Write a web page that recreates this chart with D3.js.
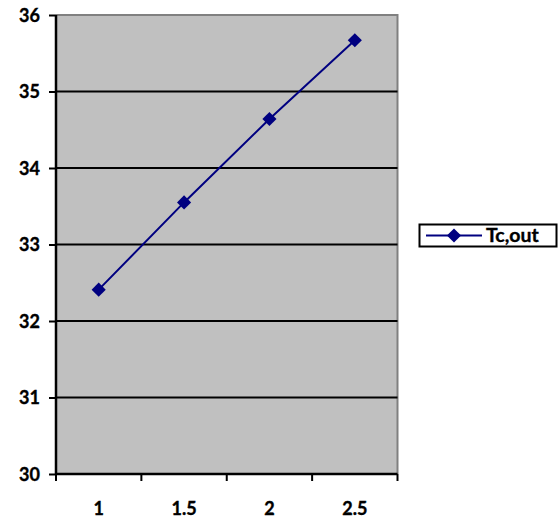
<!DOCTYPE html>
<html>
<head>
<meta charset="utf-8">
<script src="https://cdn.jsdelivr.net/npm/d3@7"></script>
<style>
  html, body { margin: 0; padding: 0; background: #fff; }
  svg { display: block; }
  text { font-family: Lato, "Open Sans", sans-serif; font-weight: bold; fill: #000; stroke: #000; stroke-width: 0.35px; }
</style>
</head>
<body>
<svg id="chart" width="559" height="520"></svg>
<script>
// Outlet temperature by category
const categories = ["1", "1.5", "2", "2.5"];
const seriesName = "Tc,out";
const values = [32.41, 33.55, 34.64, 35.67];
const yTicks = [30, 31, 32, 33, 34, 35, 36];

const svg = d3.select("#chart");
const plot = { left: 56, top: 15, right: 397.5, bottom: 474 };

const x = d3.scaleBand().domain(categories).range([plot.left, plot.right]);
const y = d3.scaleLinear().domain([30, 36]).range([plot.bottom, plot.top]);

// plot area background
svg.append("rect")
  .attr("x", plot.left).attr("y", plot.top)
  .attr("width", plot.right - plot.left).attr("height", plot.bottom - plot.top)
  .attr("fill", "#c0c0c0");

// gray frame on top and right
svg.append("path")
  .attr("d", `M${plot.left},${plot.top}H${plot.right}V${plot.bottom}`)
  .attr("fill", "none").attr("stroke", "#808080").attr("stroke-width", 2);

// horizontal gridlines
svg.append("g").selectAll("line")
  .data(yTicks.filter(t => t > 30 && t < 36))
  .join("line")
  .attr("x1", plot.left).attr("x2", plot.right)
  .attr("y1", d => y(d)).attr("y2", d => y(d))
  .attr("stroke", "#000").attr("stroke-width", 2);

// y axis
const yAxis = svg.append("g")
  .attr("transform", `translate(${plot.left},0)`)
  .call(d3.axisLeft(y).tickValues(yTicks).tickSize(7).tickPadding(9).tickFormat(d3.format("d")));
yAxis.select(".domain").attr("stroke", "#000").attr("stroke-width", 2.5)
  .attr("d", `M0,${plot.top}V${plot.bottom}`);
yAxis.selectAll(".tick line").attr("stroke", "#000").attr("stroke-width", 2);
yAxis.selectAll(".tick text").style("font-size", "18px").attr("dy", "0.36em");

// x axis with tick marks on band edges
const xAxis = svg.append("g")
  .attr("transform", `translate(0,${plot.bottom})`)
  .call(d3.axisBottom(x).tickSize(0).tickPadding(28));
xAxis.select(".domain").attr("stroke", "#000").attr("stroke-width", 2.5)
  .attr("d", `M${plot.left},0H${plot.right}`);
xAxis.selectAll(".tick text").style("font-size", "18px");
const edges = categories.map(c => x(c)).concat([x.range()[1]]);
xAxis.append("g").selectAll("line")
  .data(edges)
  .join("line")
  .attr("x1", d => d).attr("x2", d => d)
  .attr("y1", 0).attr("y2", 7)
  .attr("stroke", "#000").attr("stroke-width", 2);

// series line and markers
const pts = categories.map((c, i) => [x(c) + x.bandwidth() / 2, y(values[i])]);
svg.append("path")
  .attr("d", d3.line()(pts))
  .attr("fill", "none").attr("stroke", "#000080").attr("stroke-width", 2);

const diamond = d3.symbol().type(d3.symbolSquare).size(100);
svg.append("g").selectAll("path")
  .data(pts)
  .join("path")
  .attr("d", diamond)
  .attr("transform", d => `translate(${d[0]},${d[1]}) rotate(45)`)
  .attr("fill", "#000080");

// legend
const lg = svg.append("g");
lg.append("rect")
  .attr("x", 419.5).attr("y", 224.5).attr("width", 137).attr("height", 22)
  .attr("fill", "#fff").attr("stroke", "#000").attr("stroke-width", 2);
lg.append("line")
  .attr("x1", 426).attr("x2", 482).attr("y1", 235.5).attr("y2", 235.5)
  .attr("stroke", "#000080").attr("stroke-width", 2);
lg.append("path")
  .attr("d", diamond)
  .attr("transform", "translate(454,235.5) rotate(45)")
  .attr("fill", "#000080");
lg.append("text")
  .attr("x", 486).attr("y", 242)
  .style("font-size", "19.5px")
  .text(seriesName);
</script>
</body>
</html>
